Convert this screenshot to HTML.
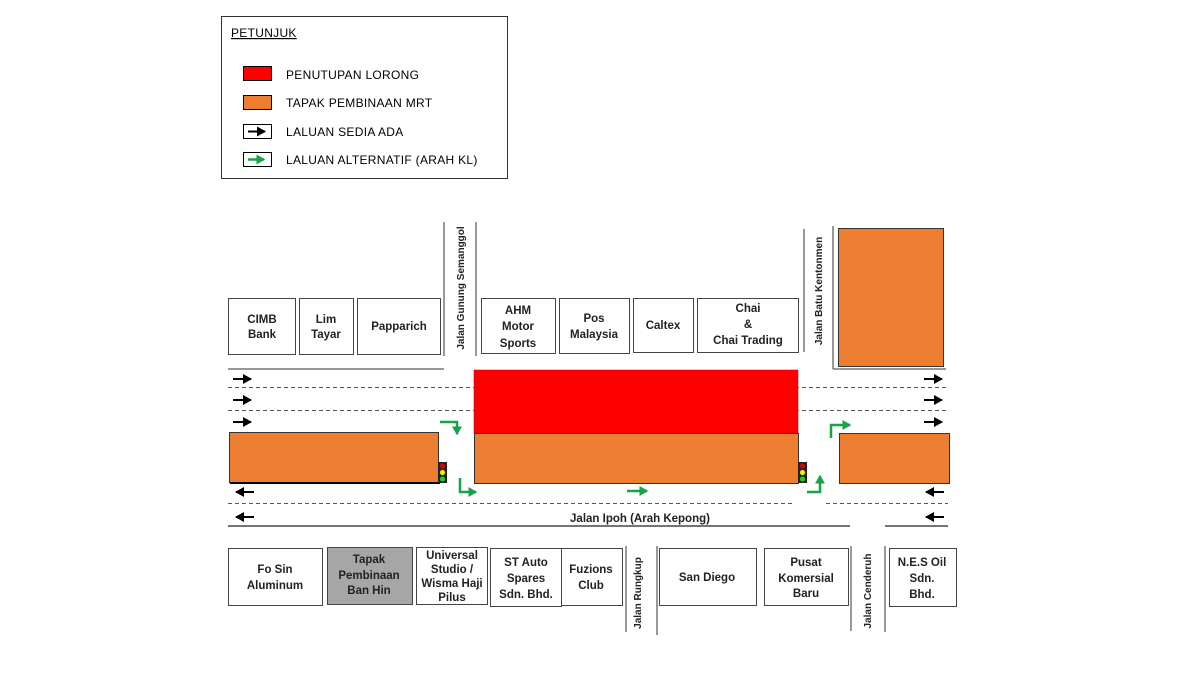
<!DOCTYPE html>
<html><head><meta charset="utf-8"><style>
html,body{margin:0;padding:0;background:#fff;}
svg{display:block;}
text{font-family:"Liberation Sans",sans-serif;}
.b{font-weight:bold;font-size:11.5px;fill:#222;text-anchor:middle;}
.l{font-size:12px;fill:#000;letter-spacing:0.3px;}
.r{font-weight:bold;font-size:10px;fill:#222;text-anchor:middle;}
</style></head><body>
<svg width="1200" height="675" viewBox="0 0 1200 675" xmlns="http://www.w3.org/2000/svg">
<defs>
<marker id="ak" markerWidth="6" markerHeight="6" refX="4" refY="2.5" orient="auto" markerUnits="strokeWidth"><path d="M0,0 L4.5,2.5 L0,5 z" fill="#000"/></marker>
<marker id="ag" markerWidth="5" markerHeight="5" refX="3" refY="2" orient="auto" markerUnits="strokeWidth"><path d="M0,0 L3.5,2 L0,4 z" fill="#17a34a"/></marker>
</defs>
<!-- legend -->
<rect x="221.5" y="16.5" width="286" height="162" fill="#fff" stroke="#333"/>
<text x="231" y="37" class="l" font-size="11.5" text-decoration="underline">PETUNJUK</text>
<rect x="243.5" y="66.5" width="28" height="14" fill="#ff0000" stroke="#000"/>
<text x="286" y="79" class="l">PENUTUPAN LORONG</text>
<rect x="243.5" y="95.5" width="28" height="14" fill="#ed7d31" stroke="#000"/>
<text x="286" y="107" class="l">TAPAK PEMBINAAN MRT</text>
<rect x="243.5" y="124.5" width="28" height="14" fill="#fff" stroke="#000"/>
<line x1="248" y1="131.5" x2="265" y2="131.5" stroke="#000" stroke-width="2" marker-end="url(#ak)"/>
<text x="286" y="136" class="l">LALUAN SEDIA ADA</text>
<rect x="243.5" y="152.5" width="28" height="14" fill="#fff" stroke="#000"/>
<line x1="248" y1="159.5" x2="264" y2="159.5" stroke="#17a34a" stroke-width="2.5" marker-end="url(#ag)"/>
<text x="286" y="164" class="l">LALUAN ALTERNATIF (ARAH KL)</text>

<!-- top buildings -->
<g fill="#fff" stroke="#444">
<rect x="228.5" y="298.5" width="67" height="56"/>
<rect x="299.5" y="298.5" width="54" height="56"/>
<rect x="357.5" y="298.5" width="83" height="56"/>
<rect x="481.5" y="298.5" width="74" height="55"/>
<rect x="559.5" y="298.5" width="70" height="55"/>
<rect x="633.5" y="298.5" width="60" height="54"/>
<rect x="697.5" y="298.5" width="101" height="54"/>
</g>
<text class="b"><tspan x="262" y="323">CIMB</tspan><tspan x="262" y="338">Bank</tspan></text>
<text class="b"><tspan x="326" y="323">Lim</tspan><tspan x="326" y="338">Tayar</tspan></text>
<text class="b" x="399" y="330">Papparich</text>
<text class="b"><tspan x="518" y="314">AHM</tspan><tspan x="518" y="330">Motor</tspan><tspan x="518" y="347">Sports</tspan></text>
<text class="b"><tspan x="594" y="322">Pos</tspan><tspan x="594" y="338">Malaysia</tspan></text>
<text class="b" x="663" y="329">Caltex</text>
<text class="b"><tspan x="748" y="312">Chai</tspan><tspan x="748" y="328">&amp;</tspan><tspan x="748" y="344">Chai Trading</tspan></text>
<g stroke="#777" stroke-width="1.5">
<line x1="444" y1="222" x2="444" y2="356"/>
<line x1="476" y1="222" x2="476" y2="356"/>
<line x1="804" y1="229" x2="804" y2="352"/>
<line x1="228" y1="369" x2="444" y2="369"/>
<line x1="833" y1="369" x2="946" y2="369"/>
<line x1="833" y1="226" x2="833" y2="369"/>
</g>
<text class="r" transform="translate(464,288) rotate(-90)">Jalan Gunung Semanggol</text>
<text class="r" transform="translate(822,291) rotate(-90)">Jalan Batu Kentonmen</text>
<rect x="838.5" y="228.5" width="105" height="138" fill="#ed7d31" stroke="#333"/>

<!-- road -->
<g stroke="#555" stroke-width="1" stroke-dasharray="4,3">
<line x1="228" y1="387.5" x2="946" y2="387.5"/>
<line x1="228" y1="410.5" x2="946" y2="410.5"/>
<line x1="228" y1="503.5" x2="795" y2="503.5"/>
<line x1="826" y1="503.5" x2="948" y2="503.5"/>
</g>
<g stroke="#222" stroke-width="1.2">
<line x1="228" y1="526" x2="850" y2="526"/>
<line x1="885" y1="526" x2="948" y2="526"/>
</g>
<rect x="474" y="370" width="324" height="63" fill="#ff0000" stroke="#b00" stroke-width="0.5"/>
<rect x="474.5" y="433.5" width="324" height="50" fill="#ed7d31" stroke="#333"/>
<rect x="229.5" y="432.5" width="209" height="50" fill="#ed7d31" stroke="#333"/>
<line x1="230" y1="483" x2="440" y2="483" stroke="#000" stroke-width="2"/>
<rect x="839.5" y="433.5" width="110" height="50" fill="#ed7d31" stroke="#333"/>
<!-- traffic lights -->
<g>
<rect x="438" y="462" width="9" height="21" fill="#222"/>
<circle cx="442.5" cy="466" r="2.6" fill="#d00"/><circle cx="442.5" cy="472.5" r="2.6" fill="#ee0"/><circle cx="442.5" cy="479" r="2.6" fill="#2c2"/>
<rect x="798" y="462" width="9" height="21" fill="#222"/>
<circle cx="802.5" cy="466" r="2.6" fill="#d00"/><circle cx="802.5" cy="472.5" r="2.6" fill="#ee0"/><circle cx="802.5" cy="479" r="2.6" fill="#2c2"/>
</g>
<!-- black arrows -->
<g stroke="#000" stroke-width="2">
<line x1="233" y1="379" x2="251" y2="379" marker-end="url(#ak)"/>
<line x1="233" y1="400" x2="251" y2="400" marker-end="url(#ak)"/>
<line x1="233" y1="422" x2="251" y2="422" marker-end="url(#ak)"/>
<line x1="924" y1="379" x2="942" y2="379" marker-end="url(#ak)"/>
<line x1="924" y1="400" x2="942" y2="400" marker-end="url(#ak)"/>
<line x1="924" y1="422" x2="942" y2="422" marker-end="url(#ak)"/>
<line x1="254" y1="492" x2="236" y2="492" marker-end="url(#ak)"/>
<line x1="254" y1="517" x2="236" y2="517" marker-end="url(#ak)"/>
<line x1="944" y1="492" x2="926" y2="492" marker-end="url(#ak)"/>
<line x1="944" y1="517" x2="926" y2="517" marker-end="url(#ak)"/>
</g>
<!-- green arrows -->
<g stroke="#17a34a" stroke-width="2.5" fill="none">
<polyline points="440,422 457,422 457,434" marker-end="url(#ag)"/>
<polyline points="460,478 460,492 476,492" marker-end="url(#ag)"/>
<line x1="627" y1="491" x2="647" y2="491" marker-end="url(#ag)"/>
<polyline points="807,492 820,492 820,476" marker-end="url(#ag)"/>
<polyline points="831,438 831,425 850,425" marker-end="url(#ag)"/>
</g>
<text x="640" y="522" class="b" font-size="12.5">Jalan Ipoh (Arah Kepong)</text>

<!-- bottom buildings -->
<g stroke="#444">
<rect x="228.5" y="548.5" width="94" height="57" fill="#fff"/>
<rect x="327.5" y="547.5" width="85" height="57" fill="#a6a6a6"/>
<rect x="416.5" y="547.5" width="71" height="57" fill="#fff"/>
<rect x="490.5" y="548.5" width="71" height="58" fill="#fff"/>
<rect x="561.5" y="548.5" width="61" height="57" fill="#fff"/>
<rect x="659.5" y="548.5" width="97" height="57" fill="#fff"/>
<rect x="764.5" y="548.5" width="84" height="57" fill="#fff"/>
<rect x="889.5" y="548.5" width="67" height="58" fill="#fff"/>
</g>
<text class="b"><tspan x="275" y="573">Fo Sin</tspan><tspan x="275" y="589">Aluminum</tspan></text>
<text class="b" font-size="11"><tspan x="369" y="563">Tapak</tspan><tspan x="369" y="579">Pembinaan</tspan><tspan x="369" y="594">Ban Hin</tspan></text>
<text class="b" font-size="10.5"><tspan x="452" y="559">Universal</tspan><tspan x="452" y="573">Studio /</tspan><tspan x="452" y="587">Wisma Haji</tspan><tspan x="452" y="601">Pilus</tspan></text>
<text class="b"><tspan x="526" y="566">ST Auto</tspan><tspan x="526" y="582">Spares</tspan><tspan x="526" y="598">Sdn. Bhd.</tspan></text>
<text class="b"><tspan x="591" y="573">Fuzions</tspan><tspan x="591" y="589">Club</tspan></text>
<text class="b" x="707" y="581">San Diego</text>
<text class="b"><tspan x="806" y="566">Pusat</tspan><tspan x="806" y="582">Komersial</tspan><tspan x="806" y="597">Baru</tspan></text>
<text class="b"><tspan x="922" y="566">N.E.S Oil</tspan><tspan x="922" y="582">Sdn.</tspan><tspan x="922" y="598">Bhd.</tspan></text>
<g stroke="#777" stroke-width="1.5">
<line x1="626" y1="546" x2="626" y2="632"/>
<line x1="657" y1="546" x2="657" y2="635"/>
<line x1="851" y1="546" x2="851" y2="631"/>
<line x1="885" y1="546" x2="885" y2="632"/>
</g>
<text class="r" transform="translate(641,593) rotate(-90)">Jalan Rungkup</text>
<text class="r" transform="translate(871,591) rotate(-90)">Jalan Cenderuh</text>
</svg>
</body></html>
